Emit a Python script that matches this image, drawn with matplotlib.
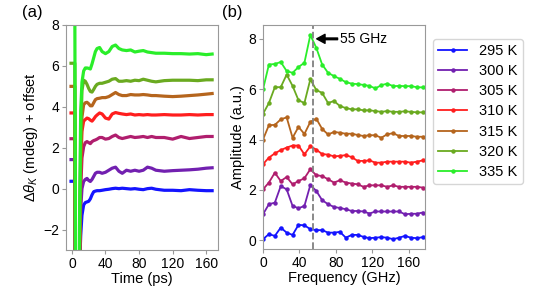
import matplotlib
matplotlib.use("Agg")
import matplotlib.pyplot as plt
import numpy as np

plt.rcParams['font.family'] = ['Liberation Sans', 'DejaVu Sans']
plt.rcParams['mathtext.fontset'] = 'custom'
plt.rcParams['mathtext.rm'] = 'Liberation Sans'
plt.rcParams['mathtext.it'] = 'Liberation Sans:italic'

labels = ['295 K', '300 K', '305 K', '310 K', '315 K', '320 K', '335 K']
colors = ['#1414ff', '#7220b0', '#b01e6e', '#ff1e1e', '#b5651d', '#6aaa20', '#2aee2a']

# Panel (a): time traces (ps)
time_ps = [-1, 3.5, 5, 7.5, 9, 10.5, 12, 14, 16, 18, 20, 22, 24, 26, 28, 30, 33, 36, 40, 44,
           48, 52, 56, 60, 65, 70, 75, 80, 85, 90, 95, 100, 110, 120, 130, 140, 150, 160, 167]
kerr_295 = [0.36, 0.36, -15, -15, -4, -2.3, -1.3, -0.8, -0.68, -0.65, -0.62, -0.5, -0.3, -0.15, -0.12, -0.1, -0.1, -0.08, -0.05, -0.03,
            0.0, 0.02, 0.0, 0.02, 0.0, -0.02, 0.0, -0.03, -0.05, 0.0, 0.02, -0.03, -0.08, -0.08, -0.1, -0.05, -0.08, -0.1, -0.1]
kerr_300 = [1.42, 1.42, -15, -15, -4, -1.0, 0.0, 0.35, 0.45, 0.5, 0.4, 0.35, 0.45, 0.6, 0.75, 0.8, 0.8, 0.75, 0.8, 0.9,
            1.0, 1.05, 0.85, 0.75, 0.9, 0.85, 0.9, 0.85, 0.9, 1.05, 1.0, 0.9, 0.85, 0.88, 0.9, 0.92, 0.95, 1.0, 1.02]
kerr_305 = [2.44, 2.44, -15, -15, -4, 0.0, 1.5, 2.05, 2.25, 2.3, 2.25, 2.2, 2.3, 2.35, 2.38, 2.42, 2.5, 2.5, 2.42, 2.45,
            2.55, 2.62, 2.5, 2.45, 2.5, 2.55, 2.5, 2.52, 2.55, 2.5, 2.55, 2.5, 2.5, 2.42, 2.55, 2.45, 2.5, 2.55, 2.55]
kerr_310 = [3.7, 3.7, -15, -15, -4, 1.0, 2.8, 3.3, 3.38, 3.45, 3.42, 3.35, 3.3, 3.4, 3.52, 3.6, 3.7, 3.65, 3.45, 3.4,
            3.65, 3.72, 3.68, 3.65, 3.62, 3.65, 3.6, 3.62, 3.6, 3.62, 3.6, 3.6, 3.62, 3.6, 3.6, 3.62, 3.6, 3.62, 3.62]
kerr_315 = [5.0, 5.0, -15, -15, -4, 1.5, 3.5, 4.1, 4.2, 4.22, 4.15, 4.05, 4.05, 4.2, 4.35, 4.4, 4.42, 4.45, 4.45, 4.5,
            4.6, 4.7, 4.6, 4.55, 4.55, 4.6, 4.58, 4.58, 4.6, 4.58, 4.55, 4.55, 4.52, 4.5, 4.52, 4.55, 4.58, 4.62, 4.65]
kerr_320 = [6.13, 6.13, -15, -15, -4, 2.5, 4.8, 5.3, 5.25, 5.1, 4.9, 4.75, 4.72, 4.85, 5.0, 5.1, 5.15, 5.15, 5.2, 5.25,
            5.35, 5.38, 5.25, 5.25, 5.28, 5.25, 5.3, 5.28, 5.35, 5.3, 5.25, 5.22, 5.28, 5.3, 5.3, 5.3, 5.28, 5.32, 5.32]
kerr_335 = [9.0, 9.0, -15, -15, -2, 3.8, 5.2, 5.75, 5.9, 5.9, 5.88, 5.85, 6.1, 6.4, 6.7, 6.85, 6.9, 6.7, 6.6, 6.7,
            6.95, 7.02, 6.85, 6.78, 6.75, 6.78, 6.68, 6.72, 6.75, 6.68, 6.65, 6.62, 6.62, 6.6, 6.6, 6.58, 6.6, 6.55, 6.58]

# Panel (b): FFT amplitude
freq_ghz = [0, 6.5, 13, 19.5, 26, 32.5, 39, 45.5, 52, 58.5, 65, 71.5, 78, 84.5, 91, 97.5, 104, 110.5,
            117, 123.5, 130, 136.5, 143, 149.5, 156, 162.5, 169, 175.5]
amp_295 = [0.04, 0.24, 0.17, 0.5, 0.3, 0.21, 0.61, 0.59, 0.44, 0.4, 0.4, 0.3, 0.3, 0.33, 0.1, 0.21, 0.21, 0.13,
           0.08, 0.1, 0.12, 0.1, 0.04, 0.1, 0.17, 0.1, 0.08, 0.12]
amp_300 = [1.03, 1.43, 1.49, 2.15, 2.02, 1.36, 1.27, 1.36, 2.19, 1.96, 1.59, 1.43, 1.32, 1.28, 1.23, 1.16, 1.16, 1.14,
           1.06, 1.14, 1.14, 1.14, 1.14, 1.14, 1.03, 1.05, 1.05, 1.1]
amp_305 = [2.02, 2.29, 2.68, 2.35, 2.51, 2.22, 2.35, 2.46, 2.82, 2.58, 2.55, 2.42, 2.29, 2.38, 2.29, 2.25, 2.22, 2.12,
           2.18, 2.18, 2.18, 2.12, 2.18, 2.12, 2.12, 2.12, 2.12, 2.09]
amp_310 = [3.02, 3.28, 3.45, 3.58, 3.68, 3.76, 3.76, 3.41, 3.73, 3.6, 3.42, 3.4, 3.33, 3.35, 3.38, 3.3, 3.15, 3.15,
           3.17, 3.08, 3.08, 3.12, 3.12, 3.12, 3.12, 3.08, 3.12, 3.17]
amp_315 = [4.0, 4.57, 4.58, 4.8, 4.88, 4.07, 4.5, 4.22, 4.7, 4.83, 4.42, 4.2, 4.3, 4.27, 4.23, 4.23, 4.18, 4.14,
           4.17, 4.17, 4.07, 4.21, 4.25, 4.14, 4.14, 4.14, 4.11, 4.11]
amp_320 = [5.02, 5.45, 6.08, 6.08, 6.58, 6.13, 5.56, 5.45, 6.39, 5.97, 5.85, 5.45, 5.53, 5.33, 5.25, 5.2, 5.2, 5.16,
           5.16, 5.13, 5.1, 5.13, 5.1, 5.1, 5.12, 5.1, 5.08, 5.08]
amp_335 = [5.99, 6.98, 7.0, 7.08, 6.72, 6.65, 6.88, 7.05, 8.15, 7.65, 6.98, 6.65, 6.52, 6.41, 6.28, 6.22, 6.2, 6.17,
           6.13, 6.03, 6.16, 6.22, 6.12, 6.13, 6.12, 6.12, 6.08, 6.07]

kerr = [kerr_295, kerr_300, kerr_305, kerr_310, kerr_315, kerr_320, kerr_335]
amps = [amp_295, amp_300, amp_305, amp_310, amp_315, amp_320, amp_335]

fig = plt.figure(figsize=(5.4, 3.02), dpi=100)
W, H = 540, 302
axa = fig.add_axes([66 / W, 1 - 250 / H, 152 / W, 225 / H])
axb = fig.add_axes([263 / W, 1 - 249 / H, 162 / W, 224 / H])

for vals, c in zip(kerr, colors):
    axa.plot(time_ps, vals, color=c, lw=2.3)
axa.set_xlim(-7, 174)
axa.set_ylim(-3, 8)
axa.set_xticks([0, 40, 80, 120, 160])
axa.set_yticks([-2, 0, 2, 4, 6, 8])
axa.set_xlabel('Time (ps)', fontsize=10.5, labelpad=1)
axa.set_ylabel(r'$\Delta\theta_K$ (mdeg) + offset', fontsize=10.5, labelpad=2)

handles = []
for vals, c, lab in zip(amps, colors, labels):
    h, = axb.plot(freq_ghz, vals, color=c, lw=1.3, marker='o', ms=2.2, label=lab)
    handles.append(h)
axb.axvline(55, color='#808080', ls='--', lw=1.3)
axb.annotate('55 GHz', xy=(59, 8.0), xytext=(85, 8.0), ha='left', va='center', fontsize=10,
             arrowprops=dict(facecolor='black', edgecolor='black', width=1.2, headwidth=6.5, headlength=6, shrink=0))
axb.set_xlim(0, 178)
axb.set_ylim(-0.35, 8.55)
axb.set_xticks([0, 40, 80, 120, 160])
axb.set_yticks([0, 2, 4, 6, 8])
axb.set_xlabel('Frequency (GHz)', fontsize=10.5, labelpad=1)
axb.set_ylabel('Amplitude (a.u.)', fontsize=10.5, labelpad=2)

for ax in (axa, axb):
    for s in ax.spines.values():
        s.set_color('#999999')
    ax.tick_params(colors='#999999', labelcolor='black', labelsize=10, length=3, pad=2)

fig.legend(handles=handles, loc='upper left', bbox_to_anchor=(433 / W, 1 - 39 / H),
           fontsize=10.5, frameon=True, handlelength=2.0, borderpad=0.35, labelspacing=0.42,
           handletextpad=0.8, borderaxespad=0)

fig.text(22 / W, 1 - 12 / H, '(a)', fontsize=12, va='center', ha='left')
fig.text(222 / W, 1 - 12 / H, '(b)', fontsize=12, va='center', ha='left')

fig.savefig('out.png', dpi=100)
